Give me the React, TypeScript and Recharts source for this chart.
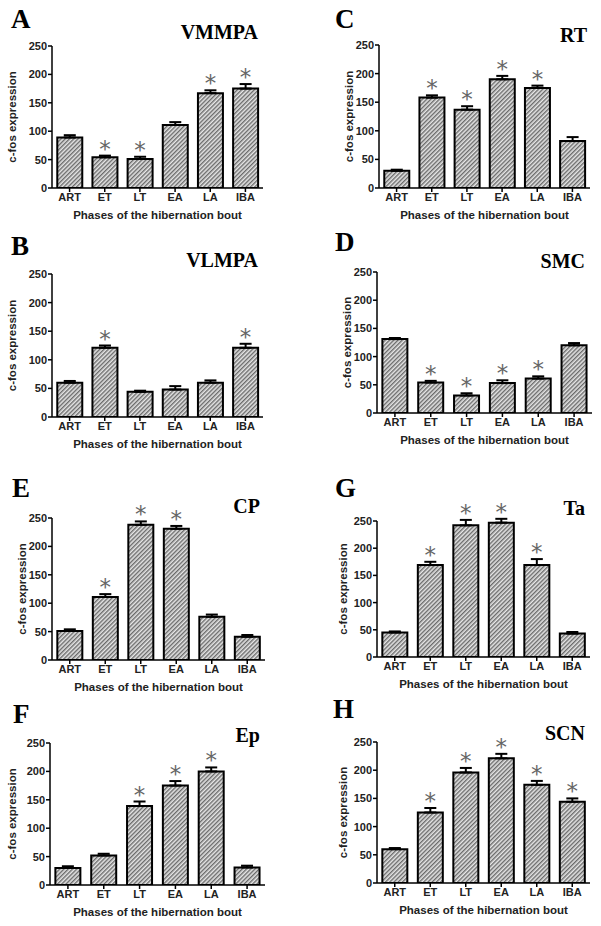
import { BarChart, Bar, XAxis, YAxis, ErrorBar, LabelList } from "recharts"

const phases = ["ART", "ET", "LT", "EA", "LA", "IBA"]
const yTicks = [0, 50, 100, 150, 200, 250]

// mean c-fos counts, SEM and significance per phase
const vmmpaMean = [89, 54, 51, 111, 167, 175]
const vmmpaSem = [4, 3, 4, 5, 5, 8]
const vmmpaSig = [0, 1, 1, 0, 1, 1]

const rtMean = [30, 158, 137, 190, 175, 82]
const rtSem = [2, 4, 6, 6, 4, 7]
const rtSig = [0, 1, 1, 1, 1, 0]

const vlmpaMean = [60, 121, 44, 48, 60, 121]
const vlmpaSem = [3, 4, 2, 6, 4, 7]
const vlmpaSig = [0, 1, 0, 0, 0, 1]

const smcMean = [131, 54, 31, 53, 61, 120]
const smcSem = [2, 3, 4, 5, 4, 4]
const smcSig = [0, 1, 1, 1, 1, 0]

const cpMean = [51, 111, 238, 231, 76, 41]
const cpSem = [3, 5, 6, 5, 4, 3]
const cpSig = [0, 1, 1, 1, 0, 0]

const taMean = [45, 169, 242, 247, 169, 43]
const taSem = [2, 6, 10, 7, 11, 3]
const taSig = [0, 1, 1, 1, 1, 0]

const epMean = [30, 52, 139, 175, 200, 31]
const epSem = [3, 3, 8, 8, 7, 3]
const epSig = [0, 0, 1, 1, 1, 0]

const scnMean = [60, 125, 196, 221, 174, 144]
const scnSem = [2, 8, 8, 8, 7, 6]
const scnSig = [0, 1, 1, 1, 1, 1]

interface PanelDef {
  letter: string
  title: string
  mean: number[]
  sem: number[]
  sig: number[]
  x0: number
  x1: number
  y0: number
  y1: number
  labelGap: number
  lx: number
  ly: number
  tx: number
  ty: number
}

const panels: PanelDef[] = [
  { letter: "A", title: "VMMPA", mean: vmmpaMean, sem: vmmpaSem, sig: vmmpaSig, x0: 52, x1: 263, y0: 46, y1: 188, labelGap: 40, lx: 11, ly: 28, tx: 258, ty: 39 },
  { letter: "C", title: "RT", mean: rtMean, sem: rtSem, sig: rtSig, x0: 379, x1: 590, y0: 45, y1: 188, labelGap: 30, lx: 335, ly: 28, tx: 587, ty: 42 },
  { letter: "B", title: "VLMPA", mean: vlmpaMean, sem: vlmpaSem, sig: vlmpaSig, x0: 52, x1: 263, y0: 274, y1: 417, labelGap: 40, lx: 11, ly: 255, tx: 258, ty: 267 },
  { letter: "D", title: "SMC", mean: smcMean, sem: smcSem, sig: smcSig, x0: 377, x1: 592, y0: 272, y1: 413, labelGap: 30, lx: 335, ly: 251, tx: 585, ty: 268 },
  { letter: "E", title: "CP", mean: cpMean, sem: cpSem, sig: cpSig, x0: 52, x1: 265, y0: 518, y1: 660, labelGap: 30, lx: 12, ly: 497, tx: 260, ty: 513 },
  { letter: "G", title: "Ta", mean: taMean, sem: taSem, sig: taSig, x0: 377, x1: 590, y0: 521, y1: 657, labelGap: 34, lx: 335, ly: 497, tx: 585, ty: 515 },
  { letter: "F", title: "Ep", mean: epMean, sem: epSem, sig: epSig, x0: 50, x1: 265, y0: 743, y1: 885, labelGap: 38, lx: 13, ly: 723, tx: 260, ty: 742 },
  { letter: "H", title: "SCN", mean: scnMean, sem: scnSem, sig: scnSig, x0: 377, x1: 590, y0: 742, y1: 883, labelGap: 34, lx: 333, ly: 718, tx: 585, ty: 740 },
]

const SANS = "'Liberation Sans', Arial, sans-serif"
const SERIF = "'Liberation Serif', 'Times New Roman', serif"
const TOP = 40
const YW = 50
const XH = 36

function Panel({ p }: { p: PanelDef }) {
  const data = phases.map((phase, i) => ({
    phase,
    mean: p.mean[i],
    err: [0, p.sem[i]],
    sig: p.sig[i],
  }))

  const renderStar = (props: any) => {
    const { x, y, width, height, index } = props
    if (!p.sig[index]) return null
    const top = y - (p.sem[index] * height) / p.mean[index]
    return (
      <text
        x={x + width / 2}
        y={top + 1}
        textAnchor="middle"
        fontSize={23}
        fontFamily="'DejaVu Sans', sans-serif"
        fill="#666"
      >
        *
      </text>
    )
  }

  return (
    <div style={{ position: "absolute", left: p.x0 - YW, top: p.y0 - TOP }}>
      <BarChart
        width={p.x1 - p.x0 + YW + 10}
        height={p.y1 - p.y0 + TOP + XH}
        data={data}
        margin={{ top: TOP, right: 10, left: 0, bottom: 0 }}
        barCategoryGap="15%"
      >
        <XAxis
          dataKey="phase"
          height={XH}
          tickSize={4}
          tickMargin={1}
          axisLine={{ stroke: "#000", strokeWidth: 1.5 }}
          tickLine={{ stroke: "#000", strokeWidth: 1.5 }}
          tick={{ fill: "#222", fontSize: 11, fontWeight: "bold", fontFamily: SANS }}
          label={{
            value: "Phases of the hibernation bout",
            position: "insideBottom",
            offset: 5,
            style: { fill: "#222", fontSize: 11.5, fontWeight: "bold", fontFamily: SANS },
          }}
        />
        <YAxis
          width={YW}
          domain={[0, 250]}
          ticks={yTicks}
          allowDataOverflow
          tickSize={4}
          tickMargin={1}
          axisLine={{ stroke: "#000", strokeWidth: 1.5 }}
          tickLine={{ stroke: "#000", strokeWidth: 1.5 }}
          tick={{ fill: "#222", fontSize: 11, fontWeight: "bold", fontFamily: SANS }}
          label={{
            value: "c-fos expression",
            angle: -90,
            position: "insideLeft",
            offset: YW - p.labelGap,
            style: { textAnchor: "middle", fill: "#222", fontSize: 11.5, fontWeight: "bold", fontFamily: SANS },
          }}
        />
        <Bar dataKey="mean" fill="url(#hatch)" stroke="#000" strokeWidth={2} isAnimationActive={false}>
          <ErrorBar dataKey="err" width={6} stroke="#000" strokeWidth={2} isAnimationActive={false} />
          <LabelList dataKey="sig" content={renderStar} />
        </Bar>
      </BarChart>
    </div>
  )
}

export default function App() {
  return (
    <div style={{ position: "absolute", left: 0, top: 0, width: 601, height: 926, background: "#fff" }}>
      {panels.map(p => (
        <Panel key={p.letter} p={p} />
      ))}
      <svg
        width={601}
        height={926}
        style={{ position: "absolute", left: 0, top: 0, pointerEvents: "none" }}
      >
        <defs>
          <pattern id="hatch" patternUnits="userSpaceOnUse" width={3} height={3} patternTransform="rotate(45)">
            <rect width={3} height={3} fill="#e6e6e6" />
            <line x1={0.75} y1={0} x2={0.75} y2={3} stroke="#555" strokeWidth={1.2} />
          </pattern>
        </defs>
        {panels.map(p => (
          <g key={p.letter}>
            <text x={p.lx} y={p.ly} fontFamily={SERIF} fontWeight="bold" fontSize={27} fill="#000">
              {p.letter}
            </text>
            <text x={p.tx} y={p.ty} textAnchor="end" fontFamily={SERIF} fontWeight="bold" fontSize={20} fill="#000">
              {p.title}
            </text>
          </g>
        ))}
      </svg>
    </div>
  )
}
